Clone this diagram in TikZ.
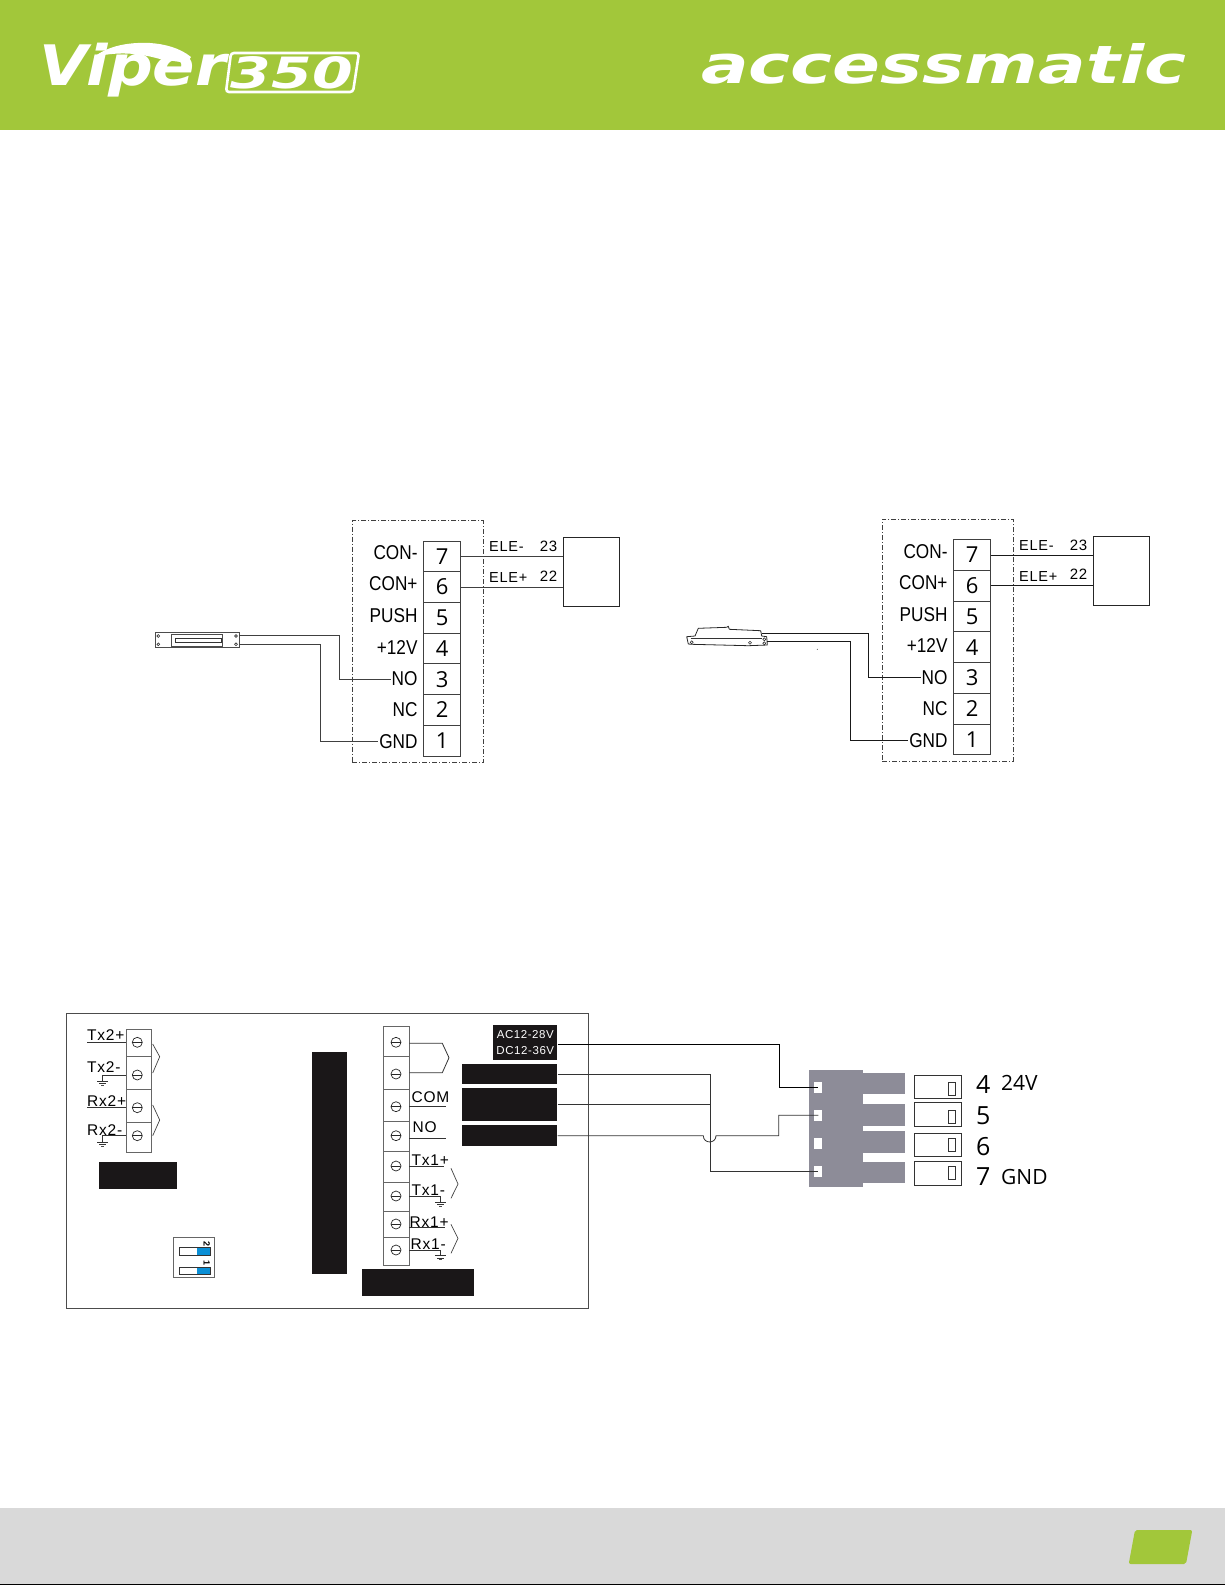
\documentclass[tikz,border=0pt]{standalone}
\usepackage{fontspec}
\setmainfont{Liberation Sans}
\newfontfamily\narrowfont[FakeStretch=.86]{Liberation Sans}
\newfontfamily\spacedfont[LetterSpace=5]{Liberation Sans}
\newfontfamily\numfont{Open Sans}
\newfontfamily\logofont{DejaVu Sans}
\definecolor{brandgreen}{HTML}{A2C73A}
\definecolor{footgray}{HTML}{D9D9D9}
\definecolor{blockblack}{HTML}{1A1718}
\definecolor{plugGray}{HTML}{8D8C98}
\definecolor{dipblue}{HTML}{0A8FD6}
\tikzset{
  cell/.style={draw=black!75,line width=.9pt,minimum width=37pt,minimum height=30.7pt,inner sep=0pt,font=\numfont\fontsize{22}{24}\selectfont},
  clamp/.style={draw=black!60,line width=.8pt,minimum width=25.7pt,inner sep=0pt},
  screw/.style={circle,draw=black!85,line width=.7pt,minimum size=10pt,inner sep=0pt,
    path picture={\draw[line width=.9pt] (path picture bounding box.west)--(path picture bounding box.east);}},
  termlabel/.style={anchor=east,inner sep=1pt,font=\narrowfont\fontsize{20}{22}\selectfont},
  smalllabel/.style={inner sep=0pt,font=\spacedfont\fontsize{15}{17}\selectfont},
  elelabel/.style={anchor=west,inner sep=0pt,font=\spacedfont\fontsize{14.5}{16}\selectfont},
  wirelabel/.style={anchor=west,inner sep=0pt,font=\spacedfont\fontsize{15.5}{17}\selectfont},
  block/.style={fill=blockblack,draw=none,inner sep=0pt},
  wireA/.style={line width=.8pt,black!75},
  wireB/.style={line width=1.1pt,black!90},
  wireC/.style={line width=.8pt,black!80},
  pinnum/.style={anchor=center,inner sep=0pt,font=\numfont\fontsize{25}{27}\selectfont},
  pintext/.style={anchor=west,inner sep=0pt,font=\numfont\fontsize{21}{23}\selectfont},
}
\begin{document}
\begin{tikzpicture}[x=1pt,y=-1pt]
\useasboundingbox (0,0) rectangle (1225,1585);
% header and footer
\fill[brandgreen] (0,0) rectangle (1225,130);
\fill[footgray] (0,1507.5) rectangle (1225,1583.5);
\fill[black] (0,1583.5) rectangle (1225,1585);
\fill[brandgreen,rounded corners=2pt] (1135,1530)--(1192.3,1530)--(1186,1564)--(1128.7,1564)--cycle;
% logos
\node[inner sep=0pt,white,anchor=north west] (viper) at (39,43) {\resizebox*{187pt}{54pt}{\logofont\bfseries\itshape Viper}};
\fill[white] (94,57)..controls (108,46) and (128,42) .. (150,43)..controls (165,44) and (180,48) .. (191,57)
  --(187,63)--(160,59)..controls (135,52) and (115,52) .. (94,57)--cycle;
\draw[white,line width=2.6pt,rounded corners=3pt] (231,53)--(359,53)--(353,92)--(226,92)--cycle;
\node[inner sep=0pt,white] (threefifty) at (292,72.5) {\resizebox{122pt}{32pt}{\logofont\bfseries\itshape 350}};
\node[inner sep=0pt,white,anchor=north west] (accessmatic) at (701,43) {\resizebox{485pt}{40pt}{\logofont\bfseries\itshape accessmatic}};
% two terminal blocks
\foreach \s/\dx/\dy/\wr in {A/0/0/wireA,B/530/-1.3/wireB}{
\begin{scope}[shift={(\dx,\dy)}]
\node[draw=black!75,dash pattern=on 5pt off 2pt on 1pt off 2pt,line width=.8pt,minimum width=131pt,minimum height=242pt,inner sep=0pt] (frame\s) at (417.8,641.7) {};
\foreach \n/\txt/\ly in {7/CON-/552.7,6/CON+/584,5/PUSH/616,4/+12V/647.3,3/NO/679,2/NC/710,1/GND/741.7}{
  \pgfmathsetmacro\yy{556.4+30.7*(7-\n)}
  \node[cell] (cell\s\n) at (442.2,\yy) {\n};
  \node[termlabel] (label\s\n) at (418.7,\ly) {\txt};
}
\node[draw=black!85,line width=.9pt,minimum width=56pt,minimum height=69.4pt,inner sep=0pt] (relay\s) at (591.3,572) {};
\draw[\wr] (cell\s7.east) -- (cell\s7.east -| relay\s.west);
\draw[\wr] (cell\s6.east) -- (cell\s6.east -| relay\s.west);
\node[elelabel] (minus\s) at (489,547) {ELE-};
\node[elelabel] (plus\s) at (489,578) {ELE+};
\node[smalllabel] (num\s b) at (548.5,546.7) {23};
\node[smalllabel] (num\s a) at (548.5,576) {22};
\end{scope}
}
% flat lock
\node[draw=black!70,line width=.8pt,minimum width=84.3pt,minimum height=15pt,inner sep=0pt] (lockA) at (197.2,640.2) {};
\draw[line width=.7pt,black!70] (171.7,634.3) rectangle (222.7,646);
\draw[line width=.9pt,black!80] (175.7,638.3) rectangle (221.7,642.7);
\foreach \p in {(158.3,636),(158.3,644.3),(236,636),(236,644.3)}
  \draw[line width=.6pt,black!80] \p circle (1.4);
\coordinate (lockAup) at (239.3,635.7);
\coordinate (lockAdn) at (239.3,644);
\draw[wireA] (lockAup) -- ++(99.7,0) |- (labelA3.west);
\draw[wireA] (lockAdn) -- ++(81,0) |- (labelA1.west);
% side view lock
\draw[line width=.8pt,black!85,line join=round] (686.7,636.7)--(695,636)--(698.3,628.3)--(726.7,627.3)--(728.3,626.3)--(729.3,629.3)--(760.7,630.7)--(761.7,636)--(766.7,636.7)--(767.3,645)--(748.3,645.7)--(691.7,644.3)--(688.3,644)--cycle;
\draw[line width=.6pt,black!80] (690.7,638.3)--(761.7,638.3);
\foreach \p in {(691.7,642.3),(750,642.7),(764.3,643.3),(764.3,639.3)}
  \draw[line width=.6pt,black!80] \p circle (1.5);
\coordinate (lockBup) at (761.7,633.7);
\coordinate (lockBdn) at (767.3,641.7);
\draw[wireB] (lockBup) -- (868.7,633.7) |- (labelB3.west);
\draw[wireB] (lockBdn) -- (850.3,641.7) |- (labelB1.west);
\fill[black!70] (817.3,649.3) circle (.5);
% controller board
\node[draw=black!70,line width=.8pt,minimum width=522.4pt,minimum height=295pt,inner sep=0pt] (board) at (327.5,1160.8) {};
\foreach \n/\y/\h/\sy in {1/1042.5/27/1042.3,2/1072.5/33/1075,3/1105.7/33.3/1107.7,4/1137.2/29.7/1135.7}{
  \node[clamp,minimum height=\h pt] (clampL\n) at (138.8,\y) {};
  \node[screw] (screwL\n) at (137.3,\sy) {};
}
\foreach \n/\y/\h/\sy in {1/1041/30/1042.3,2/1072.5/33/1074,3/1105.3/32.7/1106.7,4/1136.7/30/1135.7,5/1167/30.6/1166,6/1197/29.4/1196,7/1224.5/25.6/1224,8/1251.2/27.7/1250}{
  \node[clamp,minimum height=\h pt] (clampR\n) at (396.2,\y) {};
  \node[screw] (screwR\n) at (396,\sy) {};
}
\node[wirelabel] (txTwoP) at (87,1035) {Tx2+};
\node[wirelabel] (txTwoM) at (87,1066.7) {Tx2-};
\node[wirelabel] (rxTwoP) at (87,1101) {Rx2+};
\node[wirelabel] (rxTwoM) at (87,1130) {Rx2-};
\node[wirelabel] (comL) at (411.5,1096.7) {COM};
\node[wirelabel] (noL) at (412.5,1127) {NO};
\node[wirelabel] (txOneP) at (411.5,1160) {Tx1+};
\node[wirelabel] (txOneM) at (411.5,1189.8) {Tx1-};
\node[wirelabel] (rxOneP) at (409.5,1221.7) {Rx1+};
\node[wirelabel] (rxOneM) at (410.5,1243.8) {Rx1-};
\draw[wireC] (clampL1.west |- screwL1) -- (screwL1 -| txTwoP.west);
\draw[wireC] (clampL3.west |- screwL3) -- (screwL3 -| rxTwoP.west);
\coordinate (gndA) at (102.7,1081);
\coordinate (gndB) at (102.7,1142);
\coordinate (gndC) at (440.7,1202.3);
\coordinate (gndD) at (440.7,1255.7);
\draw[wireC] (clampL2.west |- screwL2) -| (gndA);
\draw[wireC] (clampL4.west |- screwL4) -| (gndB);
\draw[wireC] (clampR6.east |- screwR6) -| (gndC);
\draw[wireC] (clampR8.east |- screwR8) -| (gndD);
\foreach \g in {gndA,gndB,gndC,gndD}{
  \draw[line width=.7pt,black!80] (\g) ++(-5.3,0) --++(10.6,0);
  \draw[line width=.7pt,black!80] (\g) ++(-3.3,2.3) --++(6.6,0);
  \draw[line width=.6pt,black!70] (\g) ++(-1.5,4) --++(3,0);
}
\coordinate (comEnd) at (445.7,1106.7);
\coordinate (noEnd) at (445.7,1138.3);
\coordinate (txEnd) at (444,1166.7);
\coordinate (rxEnd) at (445,1227.3);
\coordinate (jogA) at (442.3,1043.3);
\coordinate (jogB) at (442.3,1072.7);
\draw[wireC] (clampR3.east |- comEnd) -- (comEnd);
\draw[wireC] (clampR4.east |- noEnd) -- (noEnd);
\draw[wireC] (clampR5.east |- txEnd) -- (txEnd);
\draw[wireC] (clampR7.east |- rxEnd) -- (rxEnd);
\draw[wireC] (clampR1.east |- jogA) -- (jogA) -- (449,1057.7) -- (jogB) -- (clampR2.east |- jogB);
\foreach \xa/\a/\b/\c in {152.7/1044/1056.7/1073,152.7/1105/1120/1135.7,451/1168.3/1184/1198.3,451/1224.3/1238.3/1253.3}{
  \draw[line width=.7pt,black!75] (\xa,\a) -- ++(7,\b-\a) -- (\xa,\c);
}
% black blocks
\node[block,minimum width=77.4pt,minimum height=27pt] (blockA) at (138,1175.8) {};
\node[block,minimum width=34.7pt,minimum height=222pt] (blockB) at (329.3,1163.3) {};
\node[block,minimum width=112.6pt,minimum height=26.7pt] (blockC) at (418,1282.3) {};
\node[block,minimum width=64pt,minimum height=35pt,text=white,align=center,font=\spacedfont\fontsize{11.5}{16}\selectfont] (power) at (525.3,1042.5) {AC12-28V\\DC12-36V};
\node[block,minimum width=95pt,minimum height=20.3pt] (portA) at (509.8,1074.2) {};
\node[block,minimum width=95pt,minimum height=32.4pt] (portB) at (509.8,1104.5) {};
\node[block,minimum width=95pt,minimum height=20.7pt] (portC) at (509.8,1135.7) {};
% dip switch
\node[draw=black!60,line width=.7pt,minimum width=40.7pt,minimum height=40pt,inner sep=0pt] (dip) at (193.7,1257.7) {};
\foreach \y/\t/\d in {1247.7/2/1244.2,1267.3/1/1262.7}{
  \fill[dipblue] (197,\y) rectangle (210.7,\y+7.5);
  \draw[line width=.7pt,black!80] (179,\y) rectangle (210.7,\y+7.5);
  \node[inner sep=0pt,rotate=-90,font=\bfseries\fontsize{9}{10}\selectfont] (digit\t) at (206.7,\d) {\t};
}
% plug
\node[fill=plugGray,minimum width=53.7pt,minimum height=117.3pt,inner sep=0pt] (plug) at (835.8,1128.7) {};
\foreach \n/\y/\ph/\oy/\oh/\iy in {1/1083.8/21/1086.7/23.3/1089.2,2/1114.8/21.7/1114.2/23.7/1116.7,3/1141.8/21.7/1144.7/22.7/1144.7,4/1172.5/21.7/1173.3/23.3/1173}{
  \node[fill=plugGray,minimum width=42.6pt,minimum height=\ph pt,inner sep=0pt] (pin\n) at (884,\y) {};
  \node[draw=black!80,line width=.9pt,minimum width=47pt,minimum height=\oh pt,inner sep=0pt] (slot\n) at (937.8,\oy) {};
  \node[draw=black!80,line width=.9pt,minimum width=7pt,minimum height=13pt,inner sep=0pt] (tab\n) at (951.8,\iy) {};
}
\foreach \n/\y in {1/1087,2/1115.2,3/1143.4,4/1171.5}
  \node[fill=white,minimum width=8pt,minimum height=11pt,inner sep=0pt] (hole\n) at (818.3,\y) {};
\node[pinnum] (numFour) at (983.3,1085) {4};
\node[pinnum] (numFive) at (983.3,1116) {5};
\node[pinnum] (numSix) at (983.3,1146.7) {6};
\node[pinnum] (numSeven) at (983.3,1176.7) {7};
\node[pintext] (volt) at (1001,1082.7) {24V};
\node[pintext] (gnd) at (1001,1176.7) {GND};
% wires to the plug
\draw[wireC,black] (power.east |- 0,1044) -- (779.3,1044) |- (hole1.center);
\draw[wireC] (portA.east) -- (710.3,1074.2) |- (hole4.center);
\draw[wireC] (portB.east) -- (710.3,1104.5);
\draw[wireC] (portC.east) -- (703.3,1135.7) .. controls (703.3,1144) and (716,1144) .. (716,1135.7) -- (778.7,1135.7) |- (hole2.center);
\end{tikzpicture}
\end{document}
